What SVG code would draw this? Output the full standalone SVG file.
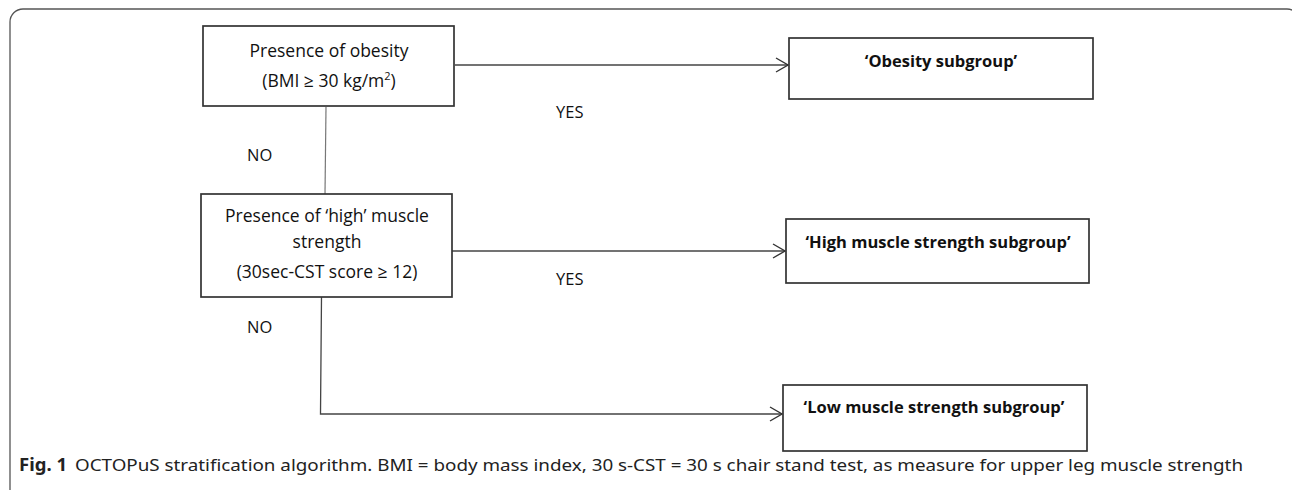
<svg xmlns="http://www.w3.org/2000/svg" width="1292" height="490" viewBox="0 0 1292 490">
<style>
.frame{fill:none;stroke:#555;stroke-width:1.3}
.box{fill:#fff;stroke:#333;stroke-width:1.7}
.t{font-family:"Open Sans","Liberation Sans",sans-serif;font-size:17.5px;fill:#111;text-anchor:middle}
.b{font-family:"Open Sans","Liberation Sans",sans-serif;font-size:16.5px;font-weight:bold;fill:#111;text-anchor:middle}
.lbl{font-family:"Open Sans","Liberation Sans",sans-serif;font-size:16.5px;fill:#111}
.cap{font-family:"Noto Sans","Open Sans",sans-serif;font-size:16.5px;fill:#222}
.con{fill:none;stroke:#444;stroke-width:1.3}
.ln{fill:none;stroke:#777;stroke-width:1.2}
</style>
<defs>
<marker id="arr" viewBox="0 0 14 16" refX="13" refY="8" markerWidth="14" markerHeight="16" markerUnits="userSpaceOnUse" orient="auto">
<path d="M1,1 L13,8 L1,15" fill="none" stroke="#333" stroke-width="1.4"/>
</marker>
</defs>
<rect class="frame" x="10" y="9" width="1290" height="500" rx="13"/>
<g id="connectors">
<line class="con" x1="455" y1="65" x2="788" y2="65" marker-end="url(#arr)"/>
<line class="ln" x1="326" y1="107" x2="325" y2="194"/>
<line class="con" x1="452" y1="251" x2="785" y2="251" marker-end="url(#arr)"/>
<polyline class="con" points="321.5,297 320.5,414 782,414" marker-end="url(#arr)"/>
<text class="lbl" x="556" y="118">YES</text>
<text class="lbl" x="556" y="285">YES</text>
<text class="lbl" x="247" y="161">NO</text>
<text class="lbl" x="247" y="333">NO</text>
</g>
<g id="n1">
<rect class="box" x="203" y="26" width="251" height="80"/>
<text class="t" x="329" y="57">Presence of obesity</text>
<text class="t" x="329" y="87">(BMI ≥ 30 kg/m<tspan font-size="11" dy="-7">2</tspan><tspan dy="7">)</tspan></text>
</g>
<g id="n2">
<rect class="box" x="201" y="194" width="251" height="103"/>
<text class="t" x="327" y="222">Presence of ‘high’ muscle</text>
<text class="t" x="327" y="248">strength</text>
<text class="t" x="327" y="278">(30sec-CST score ≥ 12)</text>
</g>
<g id="n3">
<rect class="box" x="789" y="38" width="304" height="61"/>
<text class="b" x="941" y="67">‘Obesity subgroup’</text>
</g>
<g id="n4">
<rect class="box" x="786" y="219" width="303" height="64"/>
<text class="b" x="938" y="248">‘High muscle strength subgroup’</text>
</g>
<g id="n5">
<rect class="box" x="783" y="385" width="304" height="66"/>
<text class="b" x="934" y="413">‘Low muscle strength subgroup’</text>
</g>
<text class="cap" x="19" y="471"><tspan font-weight="bold" font-size="18.5">Fig. 1</tspan><tspan x="75" textLength="1168" lengthAdjust="spacingAndGlyphs">OCTOPuS stratification algorithm. BMI = body mass index, 30 s-CST = 30 s chair stand test, as measure for upper leg muscle strength</tspan></text>
</svg>
